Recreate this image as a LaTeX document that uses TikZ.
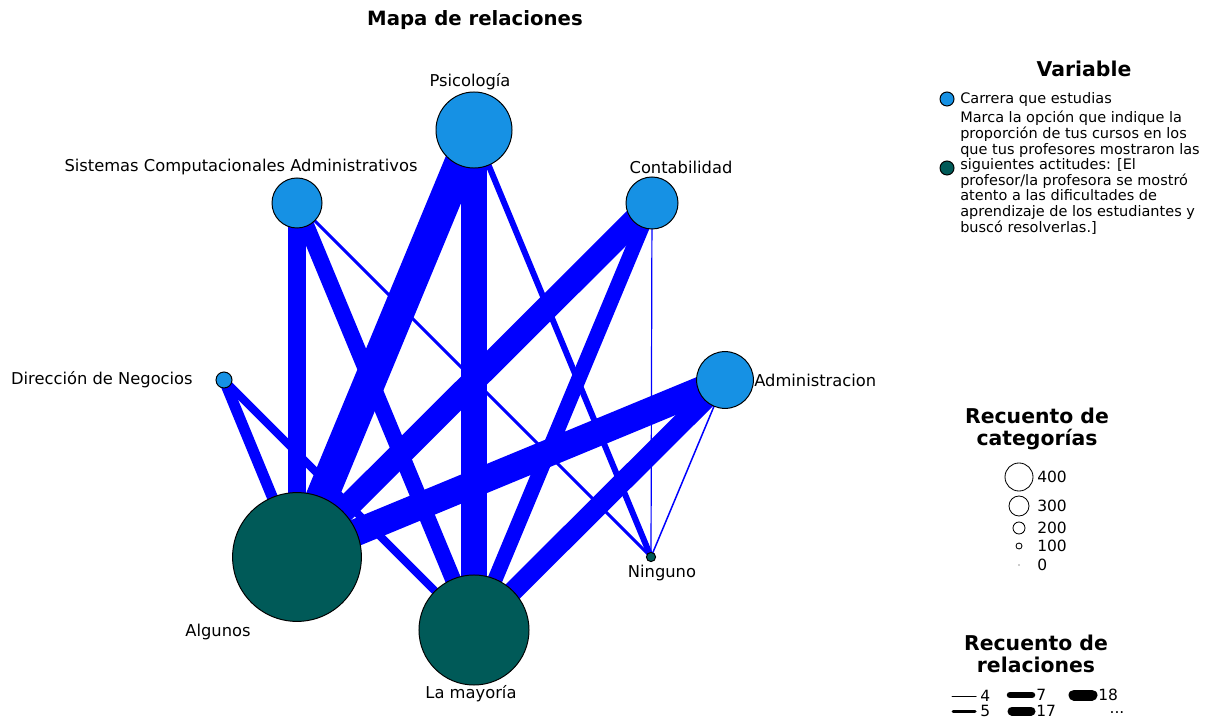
\documentclass[tikz,border=0pt]{standalone}
\usepackage{fontspec}
\setmainfont{DejaVu Sans}
\pgfdeclarelayer{edges}
\pgfsetlayers{edges,main}
\definecolor{carrera}{RGB}{22,145,228}
\definecolor{actitud}{RGB}{0,90,88}
\definecolor{enlace}{RGB}{0,0,255}
\tikzset{
  catnode/.style={circle, draw=black, line width=0.7pt, inner sep=0pt, minimum size=#1},
  rel/.style={enlace, line width=#1*0.7113pt},
  lbl/.style={font=\fontsize{11.6}{13}\selectfont, inner sep=0pt},
  legtitle/.style={font=\fontsize{14.5}{16}\bfseries, inner sep=0pt, align=center},
  legtext/.style={font=\fontsize{10.3}{11}\selectfont, inner sep=0pt},
  legnum/.style={font=\fontsize{11}{12}\selectfont, inner sep=0pt},
  legline/.style={black, line cap=round, line width=#1*0.7113pt},
}
\begin{document}
\begin{tikzpicture}[x=0.025cm, y=-0.025cm]
    \useasboundingbox (0,0) rectangle (1219,722);

    \node[font=\fontsize{14}{16}\bfseries, inner sep=0pt] (title) at (475,20) {Mapa de relaciones};

    % Categories
    \node[catnode=1.9cm, fill=carrera] (psic) at (474,130) {};
    \node[catnode=1.25cm, fill=carrera] (sca) at (297,203) {};
    \node[catnode=1.3cm, fill=carrera] (conta) at (652,203) {};
    \node[catnode=0.4cm, fill=carrera] (dirneg) at (224,380) {};
    \node[catnode=1.42cm, fill=carrera] (admin) at (725,380) {};
    \node[catnode=0.23cm, fill=actitud] (ning) at (651,557) {};
    \node[catnode=3.22cm, fill=actitud] (alg) at (297,557) {};
    \node[catnode=2.75cm, fill=actitud] (may) at (474,630) {};

    % Relations
    \begin{pgfonlayer}{edges}
    \foreach \a/\b/\w in {psic/alg/32, psic/may/26, psic/ning/6,
                          sca/alg/18, sca/may/16, sca/ning/3,
                          conta/alg/24, conta/may/15, conta/ning/1.2,
                          dirneg/alg/11, dirneg/may/8,
                          admin/alg/27, admin/may/20, admin/ning/1.5} {
        \draw[rel=\w] (\a.center) -- (\b.center);
    }
    \end{pgfonlayer}

    % Labels
    \node[lbl] (lpsic) at (470,82) {Psicología};
    \node[lbl] (lsca) at (241,167) {Sistemas Computacionales Administrativos};
    \node[lbl] (lconta) at (681,167) {Contabilidad};
    \node[lbl, anchor=east] (ldirneg) at (193,380) {Dirección de Negocios};
    \node[lbl, anchor=west] (ladmin) at (754,380) {Administracion};
    \node[lbl] (lning) at (662,573) {Ninguno};
    \node[lbl] (lalg) at (218,632) {Algunos};
    \node[lbl] (lmay) at (471,694) {La mayoría};

    % Legend: Variable
    \node[legtitle] (tvar) at (1084,69) {Variable};
    \node[catnode=0.35cm, fill=carrera] (kcar) at (947,99) {};
    \node[legtext, anchor=west] (tcar) at (960,100) {Carrera que estudias};
    \node[legtext, anchor=north west, align=left, font=\fontsize{10.3}{11.1}\selectfont] (tact) at (960,111)
        {Marca la opción que indique la\\proporción de tus cursos en los\\que tus profesores mostraron las\\siguientes actitudes: [El\\profesor/la profesora se mostró\\atento a las dificultades de\\aprendizaje de los estudiantes y\\buscó resolverlas.]};
    \node[catnode=0.35cm, fill=actitud] (kact) at (947,168) {};

    % Legend: Recuento de categorías
    \node[legtitle] (tcat) at (1037,429) {Recuento de\\categorías};
    \foreach \n/\y/\r in {400/477/14, 300/506/10, 200/528/6, 100/546/3} {
        \node[circle, draw=black, line width=0.6pt, inner sep=0pt, minimum size=\r*0.05cm] (c\n) at (1019,\y) {};
        \node[legnum, anchor=west] (t\n) at (1037,\y) {\n};
    }
    \node[circle, fill=black!40, inner sep=0pt, minimum size=0.04cm] (c0) at (1019,565) {};
    \node[legnum, anchor=west] (t0) at (1037,565) {0};

    % Legend: Recuento de relaciones
    \node[legtitle] (trel) at (1036,654) {Recuento de\\relaciones};
    \coordinate (r4a) at (952,696);  \coordinate (r4b) at (976,696);
    \coordinate (r5a) at (953,711);  \coordinate (r5b) at (975,711);
    \coordinate (r7a) at (1010,695); \coordinate (r7b) at (1032,695);
    \coordinate (r17a) at (1012,711); \coordinate (r17b) at (1031,711);
    \coordinate (r18a) at (1074,695); \coordinate (r18b) at (1092,695);
    \draw[legline=1] (r4a) -- (r4b);
    \draw[legline=3] (r5a) -- (r5b);
    \draw[legline=6.5] (r7a) -- (r7b);
    \draw[legline=9] (r17a) -- (r17b);
    \draw[legline=11] (r18a) -- (r18b);
    \node[legnum, anchor=west] (l4) at (980,696) {4};
    \node[legnum, anchor=west] (l5) at (980,711) {5};
    \node[legnum, anchor=west] (l7) at (1036,695) {7};
    \node[legnum, anchor=west] (l17) at (1036,711) {17};
    \node[legnum, anchor=west] (l18) at (1098,695) {18};
    \node[legnum] (ldots) at (1117,713) {...};
\end{tikzpicture}
\end{document}
